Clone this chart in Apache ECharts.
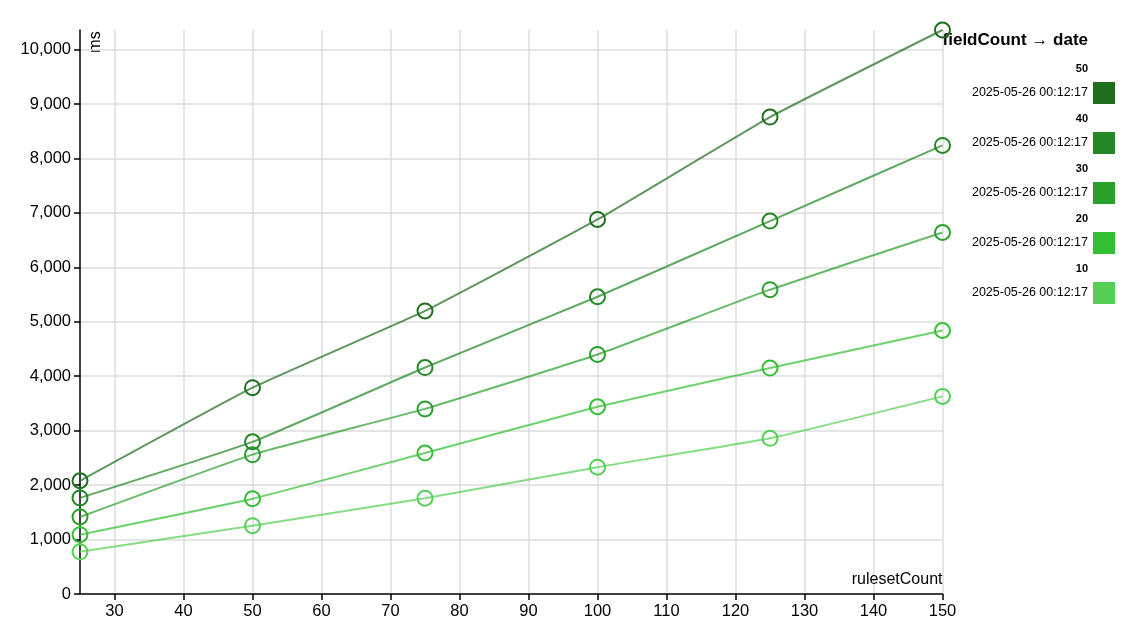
<!DOCTYPE html>
<html>
<head>
<meta charset="utf-8">
<script src="https://cdn.jsdelivr.net/npm/echarts@6/dist/echarts.min.js"></script>
<style>html,body{margin:0;padding:0;background:#fff}#c{width:1131px;height:622px}</style>
</head>
<body>
<div id="c"></div>
<script>
// ---- data ----
const rulesetCount = [25, 50, 75, 100, 125, 150];
const fieldCounts = [50, 40, 30, 20, 10];
const dates = ['2025-05-26 00:12:17', '2025-05-26 00:12:17', '2025-05-26 00:12:17', '2025-05-26 00:12:17', '2025-05-26 00:12:17'];
const ms50 = [2080, 3790, 5200, 6880, 8760, 10360];
const ms40 = [1765, 2795, 4160, 5460, 6850, 8240];
const ms30 = [1415, 2560, 3400, 4400, 5590, 6640];
const ms20 = [1090, 1750, 2590, 3440, 4150, 4840];
const ms10 = [775, 1255, 1760, 2330, 2860, 3630];
const colors = ['#1f6f1f', '#238823', '#2ca02c', '#34bf34', '#55d055'];
const seriesValues = [ms50, ms40, ms30, ms20, ms10];

const FONT = "'Liberation Sans', Arial, sans-serif";
const chart = echarts.init(document.getElementById('c'));

const series = seriesValues.map((vals, i) => ({
  type: 'line',
  name: String(fieldCounts[i]),
  data: rulesetCount.map((x, j) => [x, vals[j]]),
  smooth: 0.12,
  symbol: 'circle',
  symbolSize: 15,
  z: 10 - i,
  lineStyle: { color: colors[i], width: 2, opacity: 0.72 },
  itemStyle: { color: 'rgba(0,0,0,0)', borderColor: colors[i], borderWidth: 2 },
  emphasis: { disabled: true },
  animation: false
}));

// legend drawn as graphic
const graphic = [
  { type: 'text', right: 43, top: 32, style: { text: 'fieldCount \u2192 date', font: "bold 17px 'Liberation Sans', 'DejaVu Sans', sans-serif", fill: '#000' } },
  { type: 'text', x: 96, y: 42, rotation: Math.PI / 2, style: { text: 'ms', font: '16px ' + FONT, fill: '#000', align: 'center', verticalAlign: 'middle' } }
];
fieldCounts.forEach((fc, i) => {
  const y0 = 82 + i * 50;
  graphic.push({ type: 'text', x: 1088, y: y0 - 13, style: { text: String(fc), font: 'bold 11px ' + FONT, fill: '#000', align: 'right', verticalAlign: 'middle' } });
  graphic.push({ type: 'text', x: 1088, y: y0 + 11, style: { text: dates[i], font: '12.5px ' + FONT, fill: '#000', align: 'right', verticalAlign: 'middle' } });
  graphic.push({ type: 'rect', shape: { x: 1093, y: y0, width: 22, height: 22 }, style: { fill: colors[i] } });
});

chart.setOption({
  animation: false,
  grid: { left: 80, right: 188.5, top: 30, bottom: 28, containLabel: false },
  xAxis: {
    type: 'value', min: 25, max: 150, splitNumber: 12, minInterval: 10, maxInterval: 10,
    name: 'rulesetCount', nameLocation: 'end', nameGap: 0,
    nameTextStyle: { align: 'right', verticalAlign: 'bottom', padding: [0, 0, 6, 0], fontSize: 16, color: '#000', fontFamily: FONT },
    axisLine: { lineStyle: { color: '#000', width: 1.5 } },
    axisTick: { show: true, length: 6, lineStyle: { color: '#000', width: 1.5 } },
    axisLabel: { showMinLabel: false, fontSize: 16.5, color: '#000', fontFamily: FONT, margin: 9 },
    splitLine: { show: true, showMinLine: false, lineStyle: { color: '#dddddd', width: 1.5 } }
  },
  yAxis: {
    type: 'value', min: 0, max: 'dataMax', interval: 1000,
    axisLine: { show: true, lineStyle: { color: '#000', width: 1.5 } },
    axisTick: { show: true, length: 6, lineStyle: { color: '#000', width: 1.5 } },
    axisLabel: { showMaxLabel: false, fontSize: 16.5, color: '#000', fontFamily: FONT, margin: 9, formatter: v => v.toLocaleString('en-US') },
    splitLine: { show: true, showMinLine: false, showMaxLine: false, lineStyle: { color: '#dddddd', width: 1.5 } }
  },
  series: series,
  graphic: graphic
});
</script>
</body>
</html>
